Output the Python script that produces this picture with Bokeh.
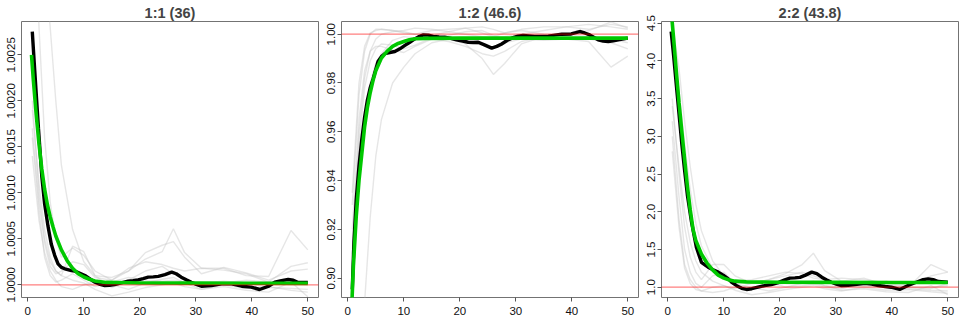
from bokeh.plotting import figure
from bokeh.layouts import row
from bokeh.models import Range1d, FixedTicker, PrintfTickFormatter, Span
from bokeh.embed import file_html
from bokeh.resources import INLINE

# ---------------- data ----------------
titles = ["1:1 (36)", "1:2 (46.6)", "2:2 (43.8)"]
x_ticks = [0, 10, 20, 30, 40, 50]
y_ticks_1 = [1.0000, 1.0005, 1.0010, 1.0015, 1.0020, 1.0025]
y_ticks_2 = [0.90, 0.92, 0.94, 0.96, 0.98, 1.00]
y_ticks_3 = [1.0, 1.5, 2.0, 2.5, 3.0, 3.5, 4.0, 4.5]
ref_level = 1.0

# replicate (gray) curves, shared x grid
gray_x = [0.8, 2, 3, 4, 5, 6, 8, 10, 12, 15, 18, 21, 24, 26, 28, 31, 35, 39, 43, 47, 50]

gray_1 = [
    [1.0060, 1.0043, 1.0035, 1.0028, 1.0020, 1.0013, 1.0006, 1.00025, 1.0001, 1.00008, 1.00015, 1.00028, 1.00036, 1.00061, 1.00035, 1.00018, 1.00018, 1.0001, 1.00009, 1.00059, 1.00038],
    [1.0045, 1.0028, 1.0016, 1.0009, 1.0005, 1.0003, 1.0004, 1.00032, 1.00015, 1.00005, 1.00015, 1.00035, 1.00043, 1.00047, 1.0003, 1.00012, 1.00019, 1.00013, 1.00005, 1.00015, 1.00017],
    [1.0019, 1.0011, 1.0006, 1.0003, 1.00015, 1.0001, 1.00042, 1.00036, 1.0001, 0.99997, 1.00005, 1.00015, 1.0002, 1.00012, 1.00005, 0.99997, 1.00002, 1.00005, 1.00003, 1.0002, 1.00024],
    [1.0016, 1.0008, 1.0003, 1.0001, 1.00003, 1.00005, 1.00012, 1.00005, 0.99998, 1.00003, 1.00008, 1.00005, 1.00004, 1.00005, 1.00003, 1.00002, 1.00004, 1.00002, 0.99997, 0.99996, 0.99995],
    [1.0014, 1.0007, 1.00035, 1.00015, 1.00005, 0.99998, 0.99995, 1.0, 1.00003, 1.0, 0.99995, 1.00002, 1.00006, 1.00008, 1.00002, 0.99995, 0.99998, 0.99994, 0.99992, 1.00003, 0.99987],
    [1.0020, 1.0010, 1.0005, 1.00025, 1.00015, 1.0001, 1.00005, 1.00002, 0.99995, 0.99988, 0.99992, 0.99997, 1.0, 1.00002, 0.99998, 0.99995, 1.0, 0.99996, 0.99998, 0.99994, 0.99992],
    [1.0017, 1.0009, 1.00045, 1.0002, 1.00012, 1.00015, 1.00025, 1.00022, 1.00008, 1.00005, 1.00018, 1.00025, 1.00022, 1.00018, 1.00015, 1.00018, 1.00016, 1.00012, 1.00003, 1.00002, 1.00003],
]
gray_2 = [
    [0.80, 0.85, 0.89, 0.925, 0.95, 0.965, 0.98, 0.9865, 0.992, 0.9965, 0.998, 0.996, 0.990, 0.9835, 0.988, 0.996, 0.999, 0.998, 0.999, 0.998, 0.999],
    [0.93, 0.975, 0.993, 1.0, 1.002, 1.002, 1.0015, 1.0005, 1.0, 1.0015, 1.002, 1.0025, 1.003, 1.002, 1.0005, 1.002, 1.003, 1.003, 1.002, 1.004, 1.003],
    [0.91, 0.96, 0.982, 0.993, 0.998, 1.0, 1.001, 1.0015, 1.0025, 1.002, 1.001, 1.0, 0.999, 0.9985, 0.999, 1.0, 1.0015, 1.003, 1.004, 1.003, 1.002],
    [0.92, 0.965, 0.985, 0.993, 0.995, 0.995, 0.9935, 0.9925, 0.995, 0.998, 0.997, 0.995, 0.992, 0.991, 0.993, 0.997, 0.999, 0.998, 0.997, 0.9865, 0.991],
    [0.90, 0.955, 0.978, 0.989, 0.994, 0.996, 0.9955, 0.994, 0.9955, 0.9985, 0.999, 0.997, 0.9955, 0.9945, 0.9965, 0.998, 0.9975, 0.998, 0.998, 0.9965, 0.994],
    [0.935, 0.98, 0.995, 1.0005, 1.0015, 1.002, 1.0015, 1.001, 1.0, 0.9995, 1.001, 1.0025, 1.0005, 0.999, 1.0005, 1.0015, 1.0, 0.9995, 1.0015, 1.005, 1.0025],
    [0.89, 0.94, 0.965, 0.98, 0.988, 0.992, 0.9975, 0.999, 0.9985, 0.998, 0.9995, 1.001, 1.0015, 0.9995, 0.998, 0.999, 0.999, 1.0, 0.999, 0.998, 0.9965],
]
gray_3 = [
    [4.3, 3.6, 2.9, 2.3, 1.85, 1.55, 1.25, 1.12, 1.06, 1.05, 1.1, 1.18, 1.3, 1.45, 1.22, 1.08, 1.12, 1.03, 1.0, 1.3, 1.2],
    [3.5, 2.5, 1.8, 1.4, 1.2, 1.1, 1.3, 1.3, 1.15, 1.05, 1.1, 1.15, 1.2, 1.15, 1.1, 1.0, 1.05, 1.08, 1.02, 1.15, 1.2],
    [3.2, 2.2, 1.5, 1.2, 1.05, 1.0, 1.15, 1.2, 1.05, 0.98, 1.02, 1.05, 1.05, 1.05, 1.02, 1.0, 1.02, 1.0, 0.98, 0.96, 0.95],
    [3.0, 1.9, 1.3, 1.1, 1.0, 0.95, 0.93, 0.95, 1.0, 1.0, 0.95, 1.0, 1.05, 1.08, 1.02, 0.96, 0.98, 0.94, 0.93, 1.02, 0.9],
    [3.4, 2.6, 2.0, 1.6, 1.35, 1.2, 1.08, 1.02, 0.96, 0.9, 0.93, 0.97, 1.0, 1.02, 0.98, 0.95, 1.0, 0.96, 0.97, 0.94, 0.92],
    [4.5, 3.9, 3.2, 2.6, 2.1, 1.75, 1.35, 1.15, 1.08, 1.1, 1.15, 1.2, 1.18, 1.12, 1.1, 1.12, 1.1, 1.06, 1.0, 1.0, 1.02],
    [2.8, 1.8, 1.25, 1.05, 0.97, 0.95, 1.0, 1.02, 0.98, 1.05, 1.08, 1.0, 1.02, 1.04, 1.0, 0.98, 1.06, 1.02, 1.0, 0.98, 1.05],
]

# mean curve (black)
mean_x_1 = [0.8, 1.25, 1.9, 2.5, 3.0, 3.6, 4.2, 4.8, 5.4, 6.0, 6.6, 7.8, 8.4, 9.3, 10.2, 11.1, 12.0, 12.9, 13.75, 14.6,
            15.5, 16.7, 17.9, 18.8, 19.7, 20.6, 21.5, 22.4, 23.3, 24.5, 25.7, 26.5, 27.4, 28.3, 29.2, 30.1, 31.0, 32.8,
            34.6, 36.4, 38.2, 39.9, 41.4, 42.9, 44.1, 45.3, 46.5, 47.4, 48.3, 50.0]
mean_y_1 = [1.002753, 1.002318, 1.001702, 1.001180, 1.000880, 1.000640, 1.000440, 1.000320, 1.000228, 1.000190,
            1.000174, 1.000155, 1.000148, 1.000125, 1.000101, 1.000065, 1.000028, 1.000005, 0.999992, 0.999995,
            1.000003, 1.000020, 1.000039, 1.000045, 1.000054, 1.000068, 1.000083, 1.000086, 1.000091, 1.000110,
            1.000137, 1.000120, 1.000083, 1.000055, 1.000028, 1.000005, 0.999985, 0.999992, 1.000011, 1.000011,
            0.999985, 0.999975, 0.999949, 0.999982, 1.000028, 1.000045, 1.000058, 1.000050, 1.000025, 1.000025]

mean_x_2 = [0.8, 1.1, 1.5, 2.0, 2.5, 3.0, 3.5, 4.0, 4.5, 5.4, 6.0, 6.6, 7.5, 8.4, 9.3, 10.2, 11.0, 11.7, 12.6, 13.5,
            14.4, 15.25, 16.3, 17.3, 18.4, 19.4, 20.5, 21.5, 22.4, 23.3, 24.5, 25.7, 26.6, 27.4, 28.5, 29.5, 30.4,
            31.3, 33.4, 35.8, 38.2, 39.9, 40.7, 41.4, 42.3, 43.2, 44.7, 45.6, 46.5, 47.4, 48.3, 50.0]
mean_y_2 = [0.8955, 0.915, 0.932, 0.946, 0.957, 0.966, 0.973, 0.978, 0.9815, 0.9888, 0.9908, 0.992, 0.9925, 0.9929,
            0.994, 0.9954, 0.9966, 0.9977, 0.9989, 0.9997, 0.9996, 0.9991, 0.9989, 0.9988, 0.9983, 0.9977, 0.9972,
            0.9967, 0.9966, 0.9967, 0.9955, 0.9943, 0.995, 0.9959, 0.9975, 0.9986, 0.9992, 0.9995, 0.9991, 0.9992,
            1.0, 1.0001, 1.0006, 1.0011, 1.0005, 0.9997, 0.9977, 0.9972, 0.997, 0.9973, 0.9977, 0.9984]

mean_x_3 = [0.6, 1.0, 1.5, 2.0, 2.5, 3.0, 3.5, 4.2, 5.1, 6.0, 7.2, 8.1, 9.0, 9.9, 10.8, 11.5, 12.3, 13.2, 14.05, 15.0,
            16.1, 17.3, 18.5, 19.7, 20.9, 21.8, 22.7, 23.6, 24.6, 25.7, 26.6, 27.5, 28.3, 29.2, 30.1, 31.0, 32.2,
            33.4, 35.2, 36.4, 37.6, 38.8, 39.9, 41.4, 42.9, 44.7, 45.6, 46.5, 47.4, 48.3, 50.0]
mean_y_3 = [4.39, 4.1, 3.7, 3.3, 2.9, 2.55, 2.22, 1.88, 1.53, 1.33, 1.265, 1.23, 1.2, 1.16, 1.11, 1.06, 1.02, 0.985,
            0.97, 0.98, 1.0, 1.02, 1.035, 1.06, 1.098, 1.12, 1.124, 1.13, 1.16, 1.2, 1.18, 1.133, 1.1, 1.066, 1.04,
            1.022, 1.025, 1.035, 1.053, 1.04, 1.022, 1.01, 1.0, 0.97, 1.022, 1.075, 1.1, 1.11, 1.1, 1.075, 1.066]

# fitted curve (green)
fit_x = [0.66, 1, 1.5, 2, 2.5, 3, 3.5, 4, 4.5, 5, 6, 7, 8, 9, 10, 11, 12, 14, 20, 30, 40, 50]
fit_y_1 = [1.002500, 1.002220, 1.001850, 1.001530, 1.001260, 1.001040, 1.000870, 1.000740, 1.000630, 1.000530,
           1.000380, 1.000265, 1.000180, 1.000120, 1.000085, 1.000060, 1.000042, 1.000026, 1.000019, 1.000018,
           1.000017, 1.000016]
fit_y_2 = [0.886, 0.905, 0.925, 0.94, 0.951, 0.962, 0.970, 0.976, 0.981, 0.985, 0.9902, 0.993, 0.995, 0.9962, 0.997,
           0.9977, 0.9981, 0.9983, 0.9984, 0.9984, 0.9984, 0.9984]
fit_y_3 = [4.62, 4.33, 3.88, 3.45, 3.07, 2.7, 2.34, 2.03, 1.77, 1.62, 1.44, 1.32, 1.23, 1.16, 1.12, 1.095, 1.08,
           1.07, 1.066, 1.064, 1.063, 1.062]

# ---------------- drawing ----------------
FONT = "Liberation Sans"
BOX = "#737373"


def panel(title, y_lo, y_hi, y_ticks, y_fmt, grays, mx, my, fy):
    p = figure(width=320, height=320, output_backend="svg", toolbar_location=None,
               x_range=Range1d(-1.125, 51.91), y_range=Range1d(y_lo, y_hi),
               min_border_left=21, min_border_right=2, min_border_top=21, min_border_bottom=23)
    p.title.text = title
    p.title.align = "center"
    p.title.text_font = FONT
    p.title.text_font_style = "bold"
    p.title.text_font_size = "14.5px"
    p.title.standoff = 1
    p.grid.visible = False
    p.outline_line_color = BOX
    p.outline_line_width = 1
    p.background_fill_color = "white"
    p.border_fill_color = "white"

    for ax in (p.xaxis[0], p.yaxis[0]):
        ax.axis_line_color = None
        ax.major_tick_in = 0
        ax.major_tick_out = 4
        ax.major_tick_line_color = "#555555"
        ax.minor_tick_line_color = None
        ax.major_label_text_font = FONT
        ax.major_label_text_font_size = "11.5px"
        ax.major_label_text_color = "#111111"
    p.xaxis.ticker = FixedTicker(ticks=x_ticks)
    p.xaxis.major_label_standoff = 5
    p.yaxis.ticker = FixedTicker(ticks=y_ticks)
    p.yaxis.formatter = PrintfTickFormatter(format=y_fmt)
    p.yaxis.major_label_orientation = "vertical"
    p.yaxis.major_label_standoff = 2

    for gy in grays:
        p.line(gray_x, gy, line_color="#c4c4c4", line_alpha=0.42, line_width=1.4)
    p.line(mx, my, line_color="black", line_width=3.4)
    p.line(fit_x, fy, line_color="#00c800", line_width=3.6)
    p.add_layout(Span(location=ref_level, dimension="width", line_color="red",
                      line_alpha=0.5, line_width=1.3))
    return p


p1 = panel(titles[0], 0.999862, 1.002862, y_ticks_1, "%.4f", gray_1, mean_x_1, mean_y_1, fit_y_1)
p2 = panel(titles[1], 0.8921, 1.0052, y_ticks_2, "%.2f", gray_2, mean_x_2, mean_y_2, fit_y_2)
p3 = panel(titles[2], 0.8634, 4.5225, y_ticks_3, "%.1f", gray_3, mean_x_3, mean_y_3, fit_y_3)

layout = row(p1, p2, p3, spacing=0)
open("out.html", "w").write(file_html(layout, INLINE))
